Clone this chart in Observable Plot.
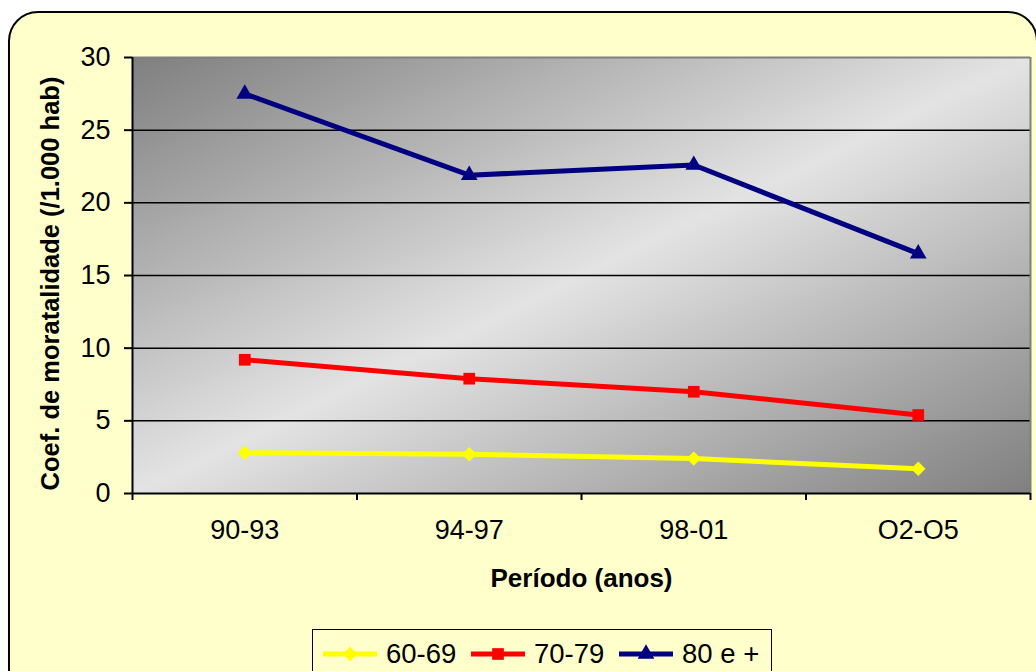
<!DOCTYPE html>
<html>
<head>
<meta charset="utf-8">
<script src="https://cdn.jsdelivr.net/npm/d3@7"></script>
<script src="https://cdn.jsdelivr.net/npm/@observablehq/plot@0.6"></script>
<style>
  html, body { margin: 0; padding: 0; background: #ffffff; width: 1036px; height: 671px; overflow: hidden; font-family: "Liberation Sans", Arial, sans-serif; }
  #outer { position: absolute; left: 8px; top: 11px; width: 1030px; height: 720px; box-sizing: border-box; border: 2px solid #000; border-radius: 30px; background: #FFFFCC; }
  #chart { position: absolute; left: 0; top: 0; }
  #legend { position: absolute; left: 312px; top: 629px; width: 460px; height: 70px; box-sizing: border-box; border: 1.5px solid #000; background: #FFFFCC; }
  #legend .item { position: absolute; top: 6px; font-size: 27.5px; line-height: 36px; white-space: nowrap; }
  #legend svg { position: absolute; top: 0; }
</style>
</head>
<body>
<div id="outer"></div>
<div id="chart"></div>
<div id="legend"></div>
<script>
// ---- data ----
const categories = ["90-93", "94-97", "98-01", "O2-O5"];
const seriesNames = ["60-69", "70-79", "80 e +"];
const s60_69 = [2.8, 2.7, 2.4, 1.7];
const s70_79 = [9.2, 7.9, 7.0, 5.4];
const s80plus = [27.5, 21.9, 22.6, 16.5];
const yTicks = [0, 5, 10, 15, 20, 25, 30];
const seriesColors = ["#FFFF00", "#FF0000", "#000080"];
const seriesSymbols = ["diamond2", "square", "triangle"];
const markR = [6.5, 6.6, 6.2];

const seriesValues = [s60_69, s70_79, s80plus];
const data = [];
seriesValues.forEach((vals, si) => {
  vals.forEach((v, i) => data.push({series: seriesNames[si], idx: i + 0.5, cat: categories[i], value: v}));
});

const chart = Plot.plot({
  width: 1036,
  height: 671,
  marginLeft: 132,
  marginRight: 6,
  marginTop: 57,
  marginBottom: 178,
  style: {background: "transparent", fontFamily: "'Liberation Sans', Arial, sans-serif", color: "#000", overflow: "visible"},
  x: {type: "linear", domain: [0, categories.length], axis: null},
  y: {domain: [0, 30], axis: null},
  color: {domain: seriesNames, range: seriesColors},
  symbol: {domain: seriesNames, range: seriesSymbols},
  marks: [
    Plot.frame({fill: "url(#bgGrad)", stroke: "none"}),
    Plot.gridY(yTicks.filter(d => d > 0 && d < 30), {stroke: "#000", strokeOpacity: 1, strokeWidth: 1.5}),
    Plot.ruleY([30], {stroke: "#808080", strokeWidth: 2}),
    Plot.ruleX([categories.length], {stroke: "#808080", strokeWidth: 2}),
    Plot.ruleX([0], {stroke: "#000", strokeWidth: 2}),
    Plot.ruleY([0], {stroke: "#000", strokeWidth: 2}),
    Plot.axisY({ticks: yTicks, tickSize: 8, tickPadding: 14, fontSize: 27, label: null, strokeWidth: 2}),
    Plot.axisX({ticks: d3.range(categories.length + 1), tickSize: 7, tickFormat: () => "", label: null, strokeWidth: 2}),
    Plot.axisX({ticks: categories.map((c, i) => i + 0.5), tickSize: 0, tickPadding: 26, fontSize: 27, label: null,
      tickFormat: d => categories[Math.floor(d)]}),
    Plot.line(data, {x: "idx", y: "value", z: "series", stroke: "series", strokeWidth: 5, strokeLinejoin: "round"}),
    ...seriesNames.map((name, si) =>
      Plot.dot(data.filter(d => d.series === name), {x: "idx", y: "value", symbol: "series", fill: "series", stroke: "none", r: markR[si]})),
    Plot.text(["Período (anos)"], {frameAnchor: "bottom", lineAnchor: "middle", dy: 85, fontSize: 26, fontWeight: "bold"}),
    Plot.text(["Coef. de moratalidade (/1.000 hab)"], {frameAnchor: "left", lineAnchor: "middle", textAnchor: "middle", rotate: -90, dx: -82, dy: 8, fontSize: 25.5, fontWeight: "bold"})
  ]
});

document.getElementById("chart").appendChild(chart);

// gradient background
const defs = d3.select(chart).insert("defs", ":first-child");
const grad = defs.append("linearGradient").attr("id", "bgGrad")
  .attr("x1", 0).attr("y1", 0).attr("x2", 1).attr("y2", 1);
grad.append("stop").attr("offset", "0%").attr("stop-color", "#7f7f7f");
grad.append("stop").attr("offset", "50%").attr("stop-color", "#e3e3e3");
grad.append("stop").attr("offset", "100%").attr("stop-color", "#7f7f7f");

// legend
const legend = d3.select("#legend");
const itemLefts = [10, 158, 306];
const symMap = {diamond2: d3.symbolDiamond2, square: d3.symbolSquare, triangle: d3.symbolTriangle};
seriesNames.forEach((name, i) => {
  const item = legend.append("div").attr("class", "item").style("left", itemLefts[i] + "px");
  const sw = item.append("svg").attr("width", 56).attr("height", 36).style("left", "0px");
  sw.append("line").attr("x1", 0).attr("x2", 54).attr("y1", 18).attr("y2", 18)
    .attr("stroke", seriesColors[i]).attr("stroke-width", 5);
  const r = markR[i];
  sw.append("path").attr("transform", "translate(27,18)")
    .attr("d", d3.symbol(symMap[seriesSymbols[i]], r * r * Math.PI)())
    .attr("fill", seriesColors[i]);
  item.append("span").style("position", "absolute").style("left", "63px").style("top", "0px").text(name);
});
</script>
</body>
</html>
